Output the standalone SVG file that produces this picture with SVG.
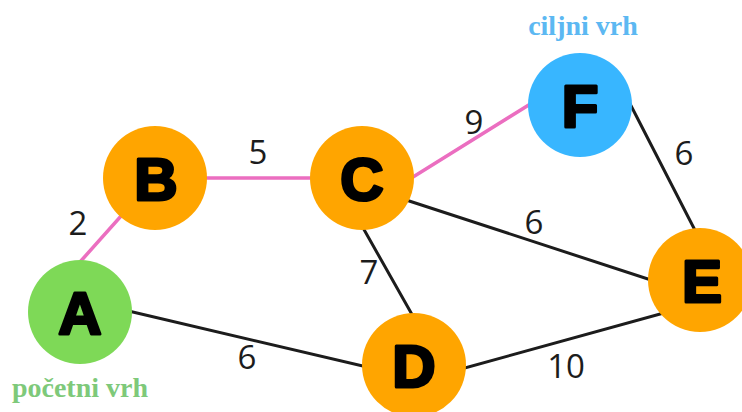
<svg xmlns="http://www.w3.org/2000/svg" width="742" height="412" viewBox="0 0 742 412">
<style>
.e{stroke:#1c1c1c;stroke-width:3;fill:none;stroke-linecap:round}
.p{stroke:#EB6EC0;stroke-width:3.5;fill:none;stroke-linecap:round}
.w{font-family:"Open Sans","Liberation Sans",sans-serif;font-size:33px;fill:#1c1c1c;text-anchor:middle}
.n{font-family:"Liberation Sans",Arial,sans-serif;font-weight:bold;font-size:60px;fill:#000;stroke:#000;stroke-width:3;stroke-linejoin:round;text-anchor:middle}
.o{fill:#FFA500}
.t{font-family:"Liberation Serif","DejaVu Serif",serif;font-weight:bold;font-size:28px;text-anchor:middle}
</style>
<rect width="742" height="412" fill="#fff"/>
<g id="connectors">
<line class="p" x1="80" y1="262" x2="155" y2="178"/>
<line class="p" x1="155" y1="178" x2="362" y2="178"/>
<line class="p" x1="405" y1="182" x2="540" y2="98"/>
<line class="e" x1="120" y1="309" x2="414" y2="378"/>
<line class="e" x1="362" y1="226" x2="414" y2="318"/>
<line class="e" x1="400" y1="198" x2="700" y2="296"/>
<line class="e" x1="414" y1="382" x2="700" y2="303"/>
<line class="e" x1="625" y1="94" x2="700" y2="240"/>
</g>
<g id="weights">
<text class="w" x="78" y="235">2</text>
<text class="w" x="258" y="164">5</text>
<text class="w" x="474" y="134">9</text>
<text class="w" x="684" y="165">6</text>
<text class="w" x="534" y="234">6</text>
<text class="w" x="369" y="284">7</text>
<text class="w" x="247" y="369">6</text>
<text class="w" x="566" y="378">10</text>
</g>
<g id="node-A"><circle cx="80" cy="312" r="52" fill="#7ED957"/><text class="n" x="80" y="334">A</text>
<text class="t" x="80" y="397" fill="#7EC97A">početni vrh</text></g>
<g id="node-B"><circle class="o" cx="155" cy="178" r="52"/><text class="n" x="156" y="200">B</text></g>
<g id="node-C"><circle class="o" cx="362" cy="178" r="52"/><text class="n" x="362" y="200">C</text></g>
<g id="node-D"><circle class="o" cx="414" cy="365" r="52"/><text class="n" x="414" y="387">D</text></g>
<g id="node-E"><circle class="o" cx="700" cy="280" r="52"/><text class="n" x="702" y="302">E</text></g>
<g id="node-F"><circle cx="580" cy="105" r="52" fill="#38B6FF"/><text class="n" x="580" y="127">F</text>
<text class="t" x="583" y="35" fill="#5CB8F2">ciljni vrh</text></g>
</svg>
